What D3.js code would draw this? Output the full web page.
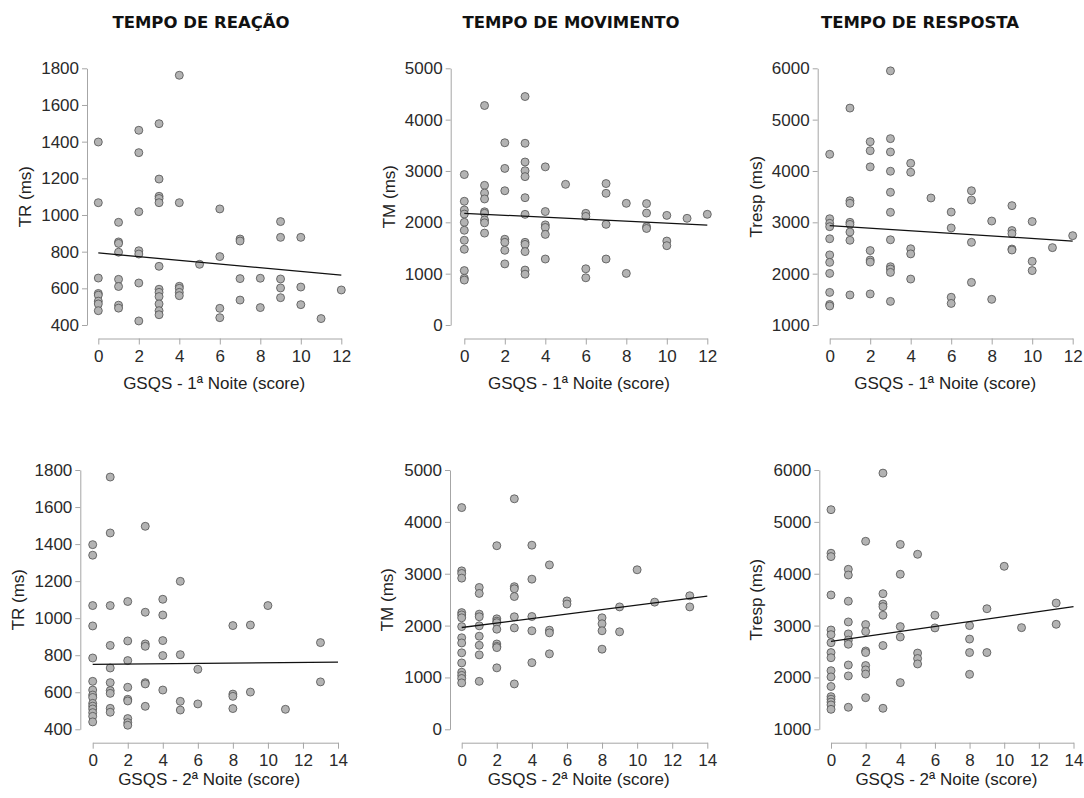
<!DOCTYPE html>
<html>
<head>
<meta charset="utf-8">
<script src="https://cdn.jsdelivr.net/npm/d3@7"></script>
<style>
  body { margin: 0; background: #fff; }
  .axis path, .axis line { stroke: #a6a6a6; }
  .axis text { fill: #2a2a2a; font-family: "Liberation Sans", Arial, sans-serif; font-size: 17px; }
</style>
</head>
<body>
<svg id="graph"></svg>
<script>
// titles / labels
var colTitles = ['TEMPO DE REAÇÃO', 'TEMPO DE MOVIMENTO', 'TEMPO DE RESPOSTA']
var yTitles = ['TR (ms)', 'TM (ms)', 'Tresp (ms)']
var xTitles = ['GSQS - 1ª Noite (score)', 'GSQS - 2ª Noite (score)']

// tick values
var scoreTicks1 = [0, 2, 4, 6, 8, 10, 12]
var scoreTicks2 = [0, 2, 4, 6, 8, 10, 12, 14]
var trTicks = [400, 600, 800, 1000, 1200, 1400, 1600, 1800]
var tmTicks = [0, 1000, 2000, 3000, 4000, 5000]
var trespTicks = [1000, 2000, 3000, 4000, 5000, 6000]

// values grouped by score (index = GSQS score)
var tr1 = [
  [1398, 1067, 656, 572, 563, 530, 515, 478],
  [960, 853, 845, 797, 649, 610, 508, 492],
  [1462, 1340, 1018, 805, 787, 629, 422],
  [1498, 1196, 1102, 1090, 1067, 720, 595, 578, 555, 515, 478, 456],
  [1762, 1067, 611, 600, 578, 560],
  [731],
  [1033, 773, 491, 440],
  [869, 858, 653, 536],
  [655, 495],
  [964, 878, 651, 602, 549],
  [878, 607, 511],
  [435],
  [591]
]
var tm1 = [
  [2930, 2410, 2240, 2160, 2000, 1845, 1650, 1475, 1060, 910, 875],
  [4275, 2720, 2570, 2455, 2205, 2175, 2045, 1990, 1790],
  [3550, 3050, 2615, 1670, 1610, 1455, 1190],
  [4450, 3540, 3175, 3005, 2890, 2480, 2155, 1610, 1570, 1430, 1070, 990],
  [3080, 2210, 1950, 1900, 1765, 1285],
  [2740],
  [2175, 2115, 1095, 920],
  [2755, 2565, 1960, 1285],
  [2370, 1005],
  [2365, 2180, 1915, 1880],
  [2135, 1635, 1545],
  [2078],
  [2156]
]
var tresp1 = [
  [4325, 3070, 2980, 2915, 2680, 2365, 2220, 2005, 1635, 1400, 1370],
  [5225, 3420, 3370, 3000, 2960, 2810, 2650, 1585],
  [4570, 4395, 4080, 2450, 2265, 2225, 1605],
  [5950, 4630, 4370, 3995, 3585, 3195, 2660, 2135, 2090, 2025, 1460],
  [4150, 3975, 2485, 2385, 1895],
  [3474],
  [3200, 2890, 1540, 1420],
  [3615, 3435, 2610, 1830],
  [3025, 1500],
  [3325, 2840, 2780, 2480, 2460],
  [3015, 2240, 2060],
  [2507],
  [2740]
]
var tr2 = [
  [1397, 1340, 1068, 958, 785, 659, 612, 585, 572, 540, 525, 510, 490, 470, 440],
  [1762, 1460, 1068, 853, 731, 652, 609, 594, 513, 492],
  [1090, 877, 771, 627, 562, 553, 458, 436, 422],
  [1496, 1032, 861, 848, 652, 645, 524],
  [1102, 1017, 879, 798, 612],
  [1199, 803, 551, 504],
  [724, 537],
  [],
  [960, 590, 578, 512],
  [963, 601],
  [1068],
  [508],
  [],
  [868, 656]
]
var tm2 = [
  [4275, 3055, 3005, 2915, 2250, 2205, 2150, 1980, 1765, 1665, 1475, 1280, 1100, 1040, 980, 895],
  [2735, 2620, 2220, 2170, 1995, 1795, 1620, 1435, 925],
  [3540, 2130, 2085, 2055, 1930, 1645, 1600, 1575, 1185],
  [4445, 2750, 2710, 2560, 2170, 1955, 875],
  [3550, 2895, 2175, 1900, 1285],
  [3170, 1910, 1860, 1455],
  [2475, 2415],
  [],
  [2150, 2035, 1900, 1545],
  [2360, 1880],
  [3076],
  [2452],
  [],
  [2575, 2360]
]
var tresp2 = [
  [5235, 4395, 4330, 3590, 2915, 2825, 2670, 2480, 2380, 2130, 2010, 1825, 1630, 1580, 1525, 1470, 1385],
  [4085, 3975, 3470, 3070, 2840, 2720, 2640, 2240, 2030, 1425],
  [4625, 3020, 2885, 2510, 2480, 2230, 2145, 2065, 1610],
  [5940, 3615, 3415, 3365, 3200, 2615, 1405],
  [4565, 3990, 2980, 2780, 1900],
  [4375, 2470, 2365, 2260],
  [3200, 2955],
  [],
  [3000, 2740, 2480, 2060],
  [3325, 2480],
  [4143],
  [2960],
  [],
  [3435, 3025]
]

// fitted lines: [intercept, slope]
var fitTr1 = [793, -10.1]
var fitTm1 = [2175, -19]
var fitTresp1 = [2935, -25]
var fitTr2 = [750, 0.9]
var fitTm2 = [1963, 43.2]
var fitTresp2 = [2697, 47.7]

var svg = d3.select('#graph')
  .attr('width', 1084)
  .attr('height', 798)

svg.append('rect').attr('width', 1084).attr('height', 798).attr('fill', '#fff')

//column titles
var titleX = [201, 571, 920]
svg.selectAll('.coltitle')
  .data(colTitles)
  .enter()
  .append('text')
  .attr('class', 'coltitle')
  .attr('x', function(d, i) { return titleX[i] })
  .attr('y', 28)
  .attr('text-anchor', 'middle')
  .style('font-family', '"DejaVu Sans", sans-serif')
  .style('font-weight', 'bold')
  .style('font-size', '16.5px')
  .style('fill', '#111')
  .text(function(d) { return d })

//panel layout
var rows = [
  { top: 68.3, bottom: 325, axisY: 338.5, titleY: 389, ticks: scoreTicks1,
    yAxisX: [87, 450.7, 817.7], xRange: [[98.3, 341.3], [464.3, 707.3], [829.7, 1072.7]], yTitleX: [25, 389, 756] },
  { top: 470, bottom: 729.3, axisY: 742.7, titleY: 785, ticks: scoreTicks2,
    yAxisX: [80.3, 450, 819.3], xRange: [[92.7, 338], [461.7, 707.3], [831, 1073.5]], yTitleX: [18, 387, 756] }
]
var yTicks = [trTicks, tmTicks, trespTicks]
var values = [[tr1, tm1, tresp1], [tr2, tm2, tresp2]]
var fits = [[fitTr1, fitTm1, fitTresp1], [fitTr2, fitTm2, fitTresp2]]

rows.forEach(function(row, r) {
  for (var c = 0; c < 3; c++) {
    var xt = row.ticks
    var yt = yTicks[c]
    var x = d3.scaleLinear().domain([xt[0], xt[xt.length - 1]]).range(row.xRange[c])
    var y = d3.scaleLinear().domain([yt[0], yt[yt.length - 1]]).range([row.bottom, row.top])

    var g = svg.append('g')

    g.append('g')
      .attr('class', 'axis')
      .attr('transform', 'translate(0,' + row.axisY + ')')
      .call(d3.axisBottom(x).tickValues(xt).tickFormat(d3.format('d')).tickSize(6).tickSizeOuter(0).tickPadding(5))

    g.append('g')
      .attr('class', 'axis')
      .attr('transform', 'translate(' + row.yAxisX[c] + ',0)')
      .call(d3.axisLeft(y).tickValues(yt).tickFormat(d3.format('d')).tickSize(5).tickSizeOuter(0).tickPadding(3))

    //axis titles
    g.append('text')
      .attr('x', (row.yAxisX[c] + row.xRange[c][1]) / 2)
      .attr('y', row.titleY)
      .attr('text-anchor', 'middle')
      .style('font-family', '"Liberation Sans", Arial, sans-serif')
      .style('font-size', '17px')
      .style('fill', '#222')
      .text(xTitles[r])

    g.append('text')
      .attr('transform', 'translate(' + (row.yTitleX[c] + 6) + ',' + (row.top + row.bottom) / 2 + ') rotate(-90)')
      .attr('text-anchor', 'middle')
      .style('font-family', '"Liberation Sans", Arial, sans-serif')
      .style('font-size', '17px')
      .style('fill', '#222')
      .text(yTitles[c])

    //flatten groups into points
    var pts = []
    values[r][c].forEach(function(list, score) {
      list.forEach(function(v) { pts.push({ score: score, value: v }) })
    })

    g.selectAll('.dot')
      .data(pts)
      .enter()
      .append('circle')
      .attr('class', 'dot')
      .attr('cx', function(d) { return x(d.score) })
      .attr('cy', function(d) { return y(d.value) })
      .attr('r', 4)
      .attr('fill', '#b3b3b3')
      .attr('stroke', '#505050')
      .attr('stroke-width', 0.8)

    //regression line
    var f = fits[r][c]
    var x0 = xt[0], x1 = xt[xt.length - 1]
    g.append('line')
      .attr('x1', x(x0)).attr('y1', y(f[0] + f[1] * x0))
      .attr('x2', x(x1)).attr('y2', y(f[0] + f[1] * x1))
      .attr('stroke', '#111')
      .attr('stroke-width', 1.3)
  }
})
</script>
</body>
</html>
